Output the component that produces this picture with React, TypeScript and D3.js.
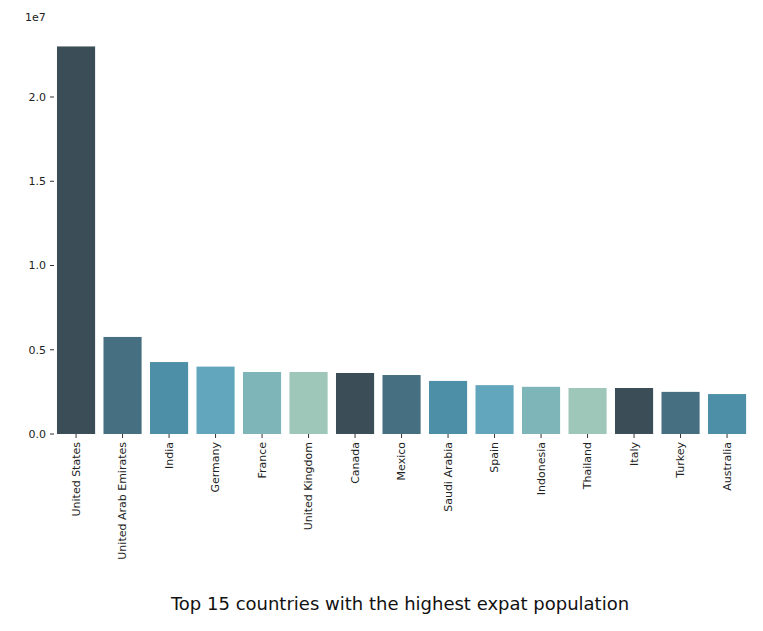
import * as d3 from "d3";

const countries = [
  "United States", "United Arab Emirates", "India", "Germany", "France",
  "United Kingdom", "Canada", "Mexico", "Saudi Arabia", "Spain",
  "Indonesia", "Thailand", "Italy", "Turkey", "Australia",
];
const expats = [
  23.0e6, 5.76e6, 4.27e6, 4.0e6, 3.68e6, 3.68e6, 3.62e6, 3.5e6, 3.15e6,
  2.9e6, 2.8e6, 2.73e6, 2.73e6, 2.5e6, 2.37e6,
];
const yTicks = [0, 0.5e7, 1.0e7, 1.5e7, 2.0e7];
const palette = ["#3b4d57", "#466f82", "#4e8fa8", "#62a6bd", "#7db5b8", "#9ec7ba"];

export default function App() {
  const W = 763, H = 631;
  const x = d3.scaleBand<string>().domain(countries).range([52.8, 750.3])
    .paddingInner(0.18).paddingOuter(0.09);
  const y = d3.scaleLinear().domain([0, 1e7]).range([434, 265.5]);
  const font = "DejaVu Sans, sans-serif";

  return (
    <svg width={W} height={H} style={{ position: "absolute", left: 0, top: 0, background: "#fff" }}>
      <text x={25} y={21} fontSize={11} fontFamily={font} fill="#222">1e7</text>
      {yTicks.map((t) => (
        <g key={t} transform={`translate(0,${y(t)})`}>
          <line x1={50} x2={54} stroke="#333" />
          <text x={46} dy="0.35em" textAnchor="end" fontSize={11} fontFamily={font} fill="#222">
            {(t / 1e7).toFixed(1)}
          </text>
        </g>
      ))}
      {countries.map((c, i) => (
        <g key={c}>
          <rect x={x(c)} y={y(expats[i])} width={x.bandwidth()} height={434 - y(expats[i])}
            fill={palette[i % palette.length]} />
          <line x1={x(c)! + x.bandwidth() / 2} x2={x(c)! + x.bandwidth() / 2} y1={434} y2={438} stroke="#333" />
          <text transform={`translate(${x(c)! + x.bandwidth() / 2},442) rotate(-90)`}
            dy="0.35em" textAnchor="end" fontSize={11} fontFamily={font} fill="#222">{c}</text>
        </g>
      ))}
      <text x={400} y={610} textAnchor="middle" fontSize={18} fontFamily={font} fill="#111">
        Top 15 countries with the highest expat population
      </text>
    </svg>
  );
}
